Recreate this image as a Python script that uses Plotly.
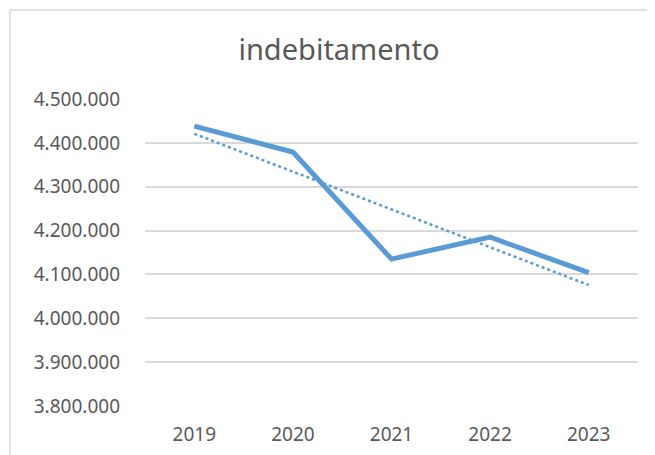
import numpy as np
import plotly.graph_objects as go

years = [2019, 2020, 2021, 2022, 2023]
indebitamento = [4438000, 4379000, 4135000, 4185000, 4104000]
y_ticks = [3800000, 3900000, 4000000, 4100000, 4200000, 4300000, 4400000, 4500000]
y_tick_labels = ["3.800.000", "3.900.000", "4.000.000", "4.100.000",
                 "4.200.000", "4.300.000", "4.400.000", "4.500.000"]
title_text = "indebitamento"

# linear trendline (as Excel's linear trend) fitted to the data
coef = np.polyfit(years, indebitamento, 1)
trend = np.polyval(coef, years)

blue = "#5B9BD5"
fnt = "Noto Sans"

fig = go.Figure()
fig.add_trace(go.Scatter(x=years, y=indebitamento, mode="lines",
                         line=dict(color=blue, width=5), showlegend=False))
fig.add_trace(go.Scatter(x=[years[0], years[-1]], y=[trend[0], trend[-1]], mode="lines",
                         line=dict(color=blue, width=2.5, dash="dot"), showlegend=False))

OFF = 8  # page body margin
W, H = 655, 455
L, R, T, B = 145 - OFF, 17 + OFF, 99 - OFF, 49 + OFF
pw, ph = W - L - R, H - T - B

fig.update_layout(
    width=W, height=H,
    margin=dict(l=L, r=R, t=T, b=B),
    paper_bgcolor="white", plot_bgcolor="white",
    title=dict(text=title_text, x=(339 - OFF) / W, xref="container", xanchor="center",
               y=1 - (50 - OFF) / H, yref="container", yanchor="middle",
               font=dict(family=fnt, size=29, color="#595959")),
    xaxis=dict(range=[2018.5, 2023.5], tickvals=years, ticktext=[str(y) for y in years],
               showgrid=False, zeroline=False, showline=False, ticks="",
               tickfont=dict(family=fnt, size=19, color="#595959"), ticklabelstandoff=15),
    yaxis=dict(range=[3800000, 4500000], tickvals=y_ticks, ticktext=y_tick_labels,
               showgrid=True, gridcolor="#D9D9D9", gridwidth=1.5, zeroline=False,
               showline=False, ticks="",
               tickfont=dict(family=fnt, size=19, color="#595959"), ticklabelstandoff=24),
    shapes=[dict(type="rect", xref="paper", yref="paper",
                 x0=(10 - OFF - L) / pw, x1=(W + 20 - L) / pw,
                 y0=(H - B - (H + 20)) / ph, y1=(H - B - (10 - OFF)) / ph,
                 line=dict(color="#D9D9D9", width=1.5), fillcolor="rgba(0,0,0,0)",
                 layer="below")],
)

fig.write_html("out.html")
